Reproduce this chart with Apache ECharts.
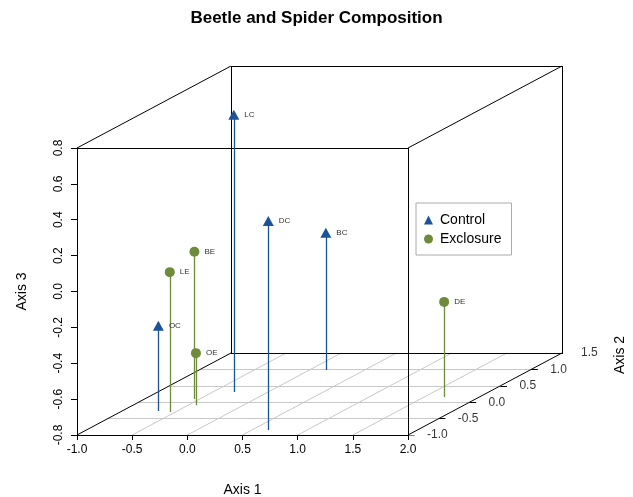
<!DOCTYPE html>
<html>
<head>
<meta charset="utf-8">
<script src="https://cdn.jsdelivr.net/npm/echarts@6/dist/echarts.min.js"></script>
<style>
  html, body { margin: 0; padding: 0; background: #fff; }
  #chart { width: 633px; height: 497px; }
</style>
</head>
<body>
<div id="chart"></div>
<script>
// Ordination scores per site (three axes), split by treatment
const controlNames = ['LC', 'DC', 'BC', 'OC'];
const controlAxis1 = [-0.31, 0.65, 0.15, -0.67];
const controlAxis2 = [0.31, -0.85, 0.98, -0.27];
const controlAxis3 = [0.74, 0.36, -0.04, -0.33];

const exclosureNames = ['LE', 'BE', 'OE', 'DE'];
const exclosureAxis1 = [-0.55, -0.55, -0.43, 1.68];
const exclosureAxis2 = [-0.30, 0.10, -0.09, 0.16];
const exclosureAxis3 = [-0.02, 0.02, -0.51, -0.27];

// Tick values on each axis
const axis1Ticks = [-1.0, -0.5, 0.0, 0.5, 1.0, 1.5, 2.0];
const axis2Ticks = [-1.0, -0.5, 0.0, 0.5, 1.0, 1.5];
const axis3Ticks = [-0.8, -0.6, -0.4, -0.2, 0.0, 0.2, 0.4, 0.6, 0.8];

// ---- layout of the projected box (pixels) ----
const W = 633, H = 497;
const frontLeft = 77, frontRight = 408, frontTop = 148, frontBottom = 435;
const depthDx = 154, depthDy = 82;

const xMin = axis1Ticks[0], xMax = axis1Ticks[axis1Ticks.length - 1];
const yMin = axis2Ticks[0], yMax = axis2Ticks[axis2Ticks.length - 1];
const zMin = axis3Ticks[0], zMax = axis3Ticks[axis3Ticks.length - 1];

// depth offset expressed in the front-face data units
const DU = (xMax - xMin) * depthDx / (frontRight - frontLeft);
const DV = (zMax - zMin) * depthDy / (frontBottom - frontTop);

// oblique projection of (x, y, z) onto the 2D plotting plane
function proj(x, y, z) {
  const f = (y - yMin) / (yMax - yMin);
  return [x + f * DU, z + f * DV];
}

const BLUE = '#1b5496';
const GREEN = '#6d8b3a';
const FONT = '"Liberation Sans", Arial, sans-serif';

function seg(a, b) { return { coords: [a, b] }; }

// floor grid (light gray)
const floorLines = [];
axis1Ticks.slice(1, -1).forEach(x => floorLines.push(seg(proj(x, yMin, zMin), proj(x, yMax, zMin))));
axis2Ticks.slice(1, -1).forEach(y => floorLines.push(seg(proj(xMin, y, zMin), proj(xMax, y, zMin))));

// box edges
const corner = (x, y, z) => proj(x, y, z);
const boxLines = [
  seg(corner(xMin, yMin, zMax), corner(xMax, yMin, zMax)),
  seg(corner(xMax, yMin, zMin), corner(xMax, yMin, zMax)),
  seg(corner(xMin, yMax, zMin), corner(xMax, yMax, zMin)),
  seg(corner(xMin, yMax, zMax), corner(xMax, yMax, zMax)),
  seg(corner(xMin, yMax, zMin), corner(xMin, yMax, zMax)),
  seg(corner(xMax, yMax, zMin), corner(xMax, yMax, zMax)),
  seg(corner(xMin, yMin, zMin), corner(xMin, yMax, zMin)),
  seg(corner(xMin, yMin, zMax), corner(xMin, yMax, zMax)),
  seg(corner(xMax, yMin, zMax), corner(xMax, yMax, zMax)),
  seg(corner(xMax, yMin, zMin), corner(xMax, yMax, zMin))
];

// small ticks along the depth axis
const tickLen = 0.06;
const depthTicks = axis2Ticks.map(y => {
  const p = proj(xMax, y, zMin);
  return seg(p, [p[0] + tickLen, p[1]]);
});

function stems(a1, a2, a3) {
  return a1.map((x, i) => seg(proj(x, a2[i], zMin), proj(x, a2[i], a3[i])));
}
function points(names, a1, a2, a3) {
  return a1.map((x, i) => ({ name: names[i], value: proj(x, a2[i], a3[i]) }));
}

const depthLabels = axis2Ticks.map(y => ({ value: proj(xMax, y, zMin), name: y.toFixed(1) }));

const chart = echarts.init(document.getElementById('chart'), null, { renderer: 'canvas' });

const pointLabel = {
  show: true, position: 'right', distance: 5,
  formatter: p => p.name, fontSize: 8, color: '#333', fontFamily: FONT
};

chart.setOption({
  animation: false,
  backgroundColor: '#fff',
  title: {
    text: 'Beetle and Spider Composition',
    left: 'center', top: 5,
    textStyle: { fontSize: 17, fontWeight: 'bold', color: '#000', fontFamily: FONT }
  },
  legend: {
    orient: 'vertical', left: 416, top: 203,
    data: [{ name: 'Control', icon: 'triangle' }, { name: 'Exclosure', icon: 'circle' }],
    itemWidth: 9, itemHeight: 9, itemGap: 5,
    padding: [10, 10, 9, 8],
    borderColor: '#aaa', borderWidth: 1,
    textStyle: { fontSize: 14, color: '#000', fontFamily: FONT, padding: [0, 0, 0, 2] },
    selectedMode: false
  },
  grid: [
    { left: frontLeft, right: W - frontRight - depthDx, top: frontTop - depthDy, bottom: H - frontBottom,
      containLabel: false, outerBoundsMode: 'none' },
    { left: frontLeft, right: W - frontRight, top: frontTop, bottom: H - frontBottom,
      containLabel: false, outerBoundsMode: 'none' }
  ],
  xAxis: [
    { gridIndex: 0, type: 'value', min: xMin, max: xMax + DU, show: false },
    {
      gridIndex: 1, type: 'value', min: xMin, max: xMax, interval: 0.5,
      name: 'Axis 1', nameLocation: 'middle', nameGap: 48,
      nameTextStyle: { fontSize: 14, color: '#000', fontFamily: FONT },
      axisLine: { onZero: false, lineStyle: { color: '#000', width: 1 } },
      axisTick: { length: 5, lineStyle: { color: '#000' } },
      axisLabel: { formatter: v => v.toFixed(1), fontSize: 12, color: '#000', margin: 9, fontFamily: FONT },
      splitLine: { show: false }
    }
  ],
  yAxis: [
    { gridIndex: 0, type: 'value', min: zMin, max: zMax + DV, show: false },
    {
      gridIndex: 1, type: 'value', min: zMin, max: zMax, interval: 0.2,
      name: 'Axis 3', nameLocation: 'middle', nameGap: 48,
      nameTextStyle: { fontSize: 14, color: '#000', fontFamily: FONT },
      axisLine: { show: true, onZero: false, lineStyle: { color: '#000', width: 1 } },
      axisTick: { show: true, length: 6, lineStyle: { color: '#000' } },
      axisLabel: { formatter: v => v.toFixed(1), fontSize: 12, color: '#000', rotate: 90, margin: 12, fontFamily: FONT },
      splitLine: { show: false }
    }
  ],
  graphic: [{
    type: 'text', x: 620, y: 355, rotation: Math.PI / 2,
    style: { text: 'Axis 2', fontSize: 14, fill: '#000', fontFamily: FONT, textAlign: 'center', textVerticalAlign: 'middle' }
  }],
  series: [
    {
      type: 'lines', coordinateSystem: 'cartesian2d', xAxisIndex: 0, yAxisIndex: 0,
      silent: true, data: floorLines, lineStyle: { color: '#c8c8c8', width: 1, opacity: 1 }
    },
    {
      type: 'lines', coordinateSystem: 'cartesian2d', xAxisIndex: 0, yAxisIndex: 0,
      silent: true, data: boxLines, lineStyle: { color: '#000', width: 1, opacity: 1 }
    },
    {
      type: 'lines', coordinateSystem: 'cartesian2d', xAxisIndex: 0, yAxisIndex: 0,
      silent: true, data: depthTicks, lineStyle: { color: '#000', width: 1, opacity: 1 }
    },
    {
      type: 'scatter', xAxisIndex: 0, yAxisIndex: 0, silent: true,
      symbolSize: 0, data: depthLabels,
      label: { show: true, position: 'right', distance: 19, formatter: p => p.name,
               fontSize: 12, color: '#000', fontFamily: FONT }
    },
    {
      type: 'lines', coordinateSystem: 'cartesian2d', xAxisIndex: 0, yAxisIndex: 0,
      silent: true, data: stems(controlAxis1, controlAxis2, controlAxis3),
      lineStyle: { color: BLUE, width: 1.3, opacity: 1 }
    },
    {
      type: 'lines', coordinateSystem: 'cartesian2d', xAxisIndex: 0, yAxisIndex: 0,
      silent: true, data: stems(exclosureAxis1, exclosureAxis2, exclosureAxis3),
      lineStyle: { color: GREEN, width: 1.3, opacity: 1 }
    },
    {
      name: 'Control', type: 'scatter', xAxisIndex: 0, yAxisIndex: 0,
      symbol: 'triangle', symbolSize: [11, 10], symbolOffset: [0, -1],
      itemStyle: { color: BLUE, opacity: 1 },
      data: points(controlNames, controlAxis1, controlAxis2, controlAxis3),
      label: pointLabel
    },
    {
      name: 'Exclosure', type: 'scatter', xAxisIndex: 0, yAxisIndex: 0,
      symbol: 'circle', symbolSize: 10,
      itemStyle: { color: GREEN, opacity: 1 },
      data: points(exclosureNames, exclosureAxis1, exclosureAxis2, exclosureAxis3),
      label: pointLabel
    }
  ]
});
</script>
</body>
</html>
